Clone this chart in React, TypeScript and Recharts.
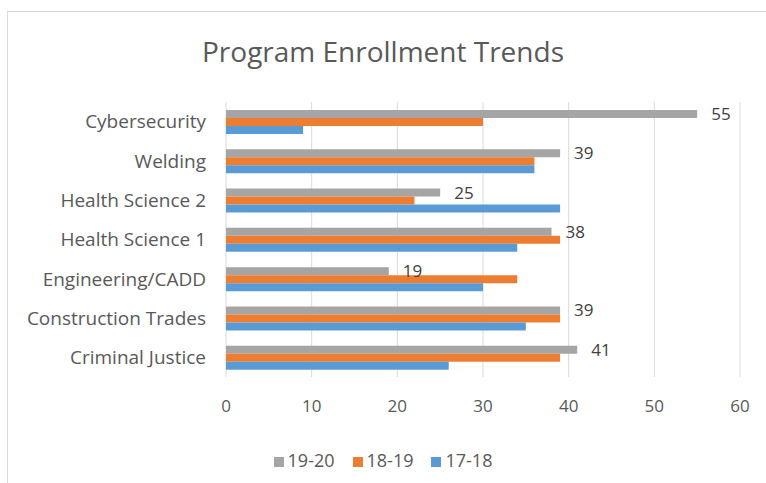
import React from 'react'
import {
  BarChart,
  Bar,
  XAxis,
  YAxis,
  CartesianGrid,
  Legend,
  LabelList,
} from 'recharts'

const categories = [
  'Cybersecurity',
  'Welding',
  'Health Science 2',
  'Health Science 1',
  'Engineering/CADD',
  'Construction Trades',
  'Criminal Justice',
]
const y1920 = [55, 39, 25, 38, 19, 39, 41]
const y1819 = [30, 36, 22, 39, 34, 39, 39]
const y1718 = [9, 36, 39, 34, 30, 35, 26]
const xTicks = [0, 10, 20, 30, 40, 50, 60]
const seriesOrder = ['19-20', '18-19', '17-18']

const data = categories.map((name, i) => ({
  name,
  s1920: y1920[i],
  s1819: y1819[i],
  s1718: y1718[i],
}))

const font = '"Open Sans", "Noto Sans", sans-serif'
const textColor = '#595959'

export default function App() {
  return (
    <div
      style={{
        position: 'absolute',
        left: 0,
        top: 0,
        width: 766,
        height: 483,
        overflow: 'hidden',
        background: '#fff',
        fontFamily: font,
      }}
    >
      <div
        style={{
          position: 'absolute',
          left: 7,
          top: 11,
          width: 800,
          height: 520,
          border: '1px solid #d9d9d9',
        }}
      />
      <div
        style={{
          position: 'absolute',
          top: 32,
          left: 0,
          width: 766,
          textAlign: 'center',
          fontSize: 28,
          color: textColor,
        }}
      >
        Program Enrollment Trends
      </div>
      <BarChart
        width={766}
        height={483}
        data={data}
        layout="vertical"
        margin={{ top: 102, right: 26, left: 0, bottom: 11 }}
        barSize={8}
        barGap={0}
        style={{ position: 'absolute', left: 0, top: 0 }}
      >
        <CartesianGrid horizontal={false} stroke="#d9d9d9" />
        <XAxis
          type="number"
          domain={[0, 60]}
          ticks={xTicks}
          axisLine={false}
          tickLine={false}
          tickMargin={17}
          height={71}
          tick={{ fontSize: 17, fill: textColor, fontFamily: font }}
        />
        <YAxis
          type="category"
          dataKey="name"
          width={226}
          axisLine={false}
          tickLine={false}
          tickMargin={14}
          tick={{ fontSize: 19, fill: textColor, fontFamily: font }}
        />
        <Legend
          verticalAlign="bottom"
          align="center"
          iconType="square"
          iconSize={10}
          itemSorter={(item: any) => seriesOrder.indexOf(item.value)}
          wrapperStyle={{ fontSize: 18, fontFamily: font, paddingLeft: 22 }}
          formatter={(value) => (
            <span style={{ color: textColor, marginRight: 8 }}>{value}</span>
          )}
        />
        <Bar dataKey="s1920" name="19-20" fill="#a5a5a5" isAnimationActive={false}>
          <LabelList
            dataKey="s1920"
            position="right"
            offset={14}
            style={{ fontSize: 17, fill: '#404040', fontFamily: font }}
          />
        </Bar>
        <Bar dataKey="s1819" name="18-19" fill="#ed7d31" isAnimationActive={false} />
        <Bar dataKey="s1718" name="17-18" fill="#5b9bd5" isAnimationActive={false} />
      </BarChart>
    </div>
  )
}
